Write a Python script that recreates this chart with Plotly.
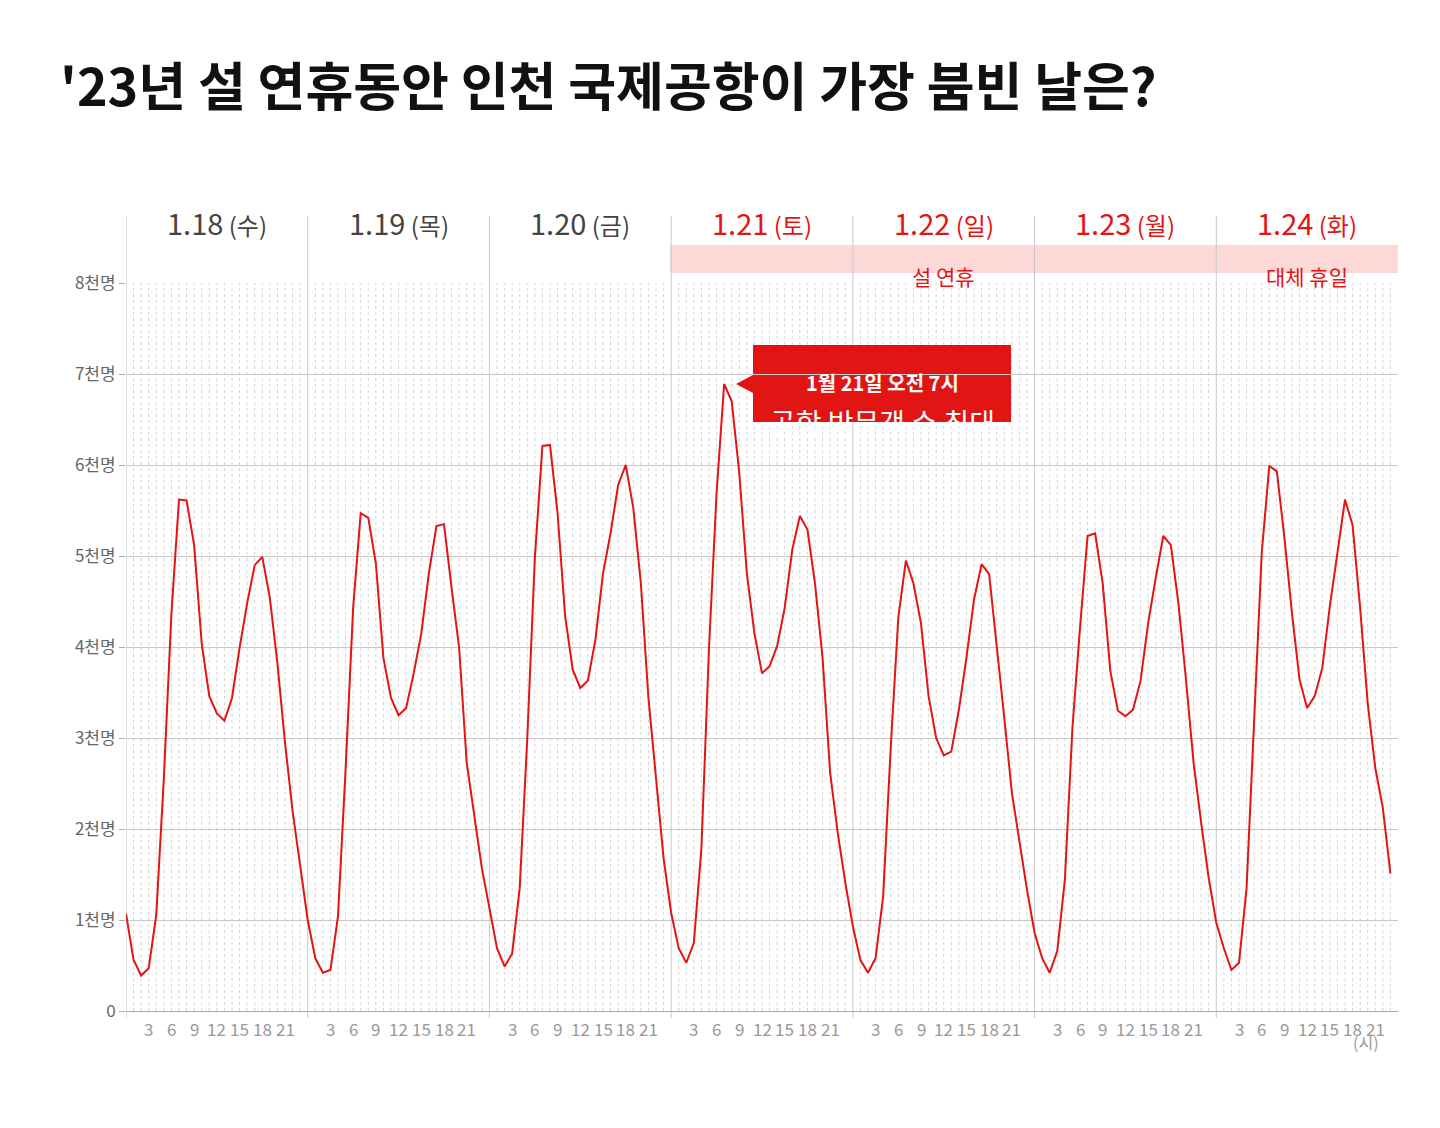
import plotly.graph_objects as go

days = ["1.18", "1.19", "1.20", "1.21", "1.22", "1.23", "1.24"]
weekdays = ["(수)", "(목)", "(금)", "(토)", "(일)", "(월)", "(화)"]
holiday = [False, False, False, True, True, True, True]
hour_ticks = [3, 6, 9, 12, 15, 18, 21]
y_ticks = [0, 1, 2, 3, 4, 5, 6, 7, 8]
y_labels = ["0", "1천명", "2천명", "3천명", "4천명", "5천명", "6천명", "7천명", "8천명"]

# visitors per hour (thousand)
d18 = [1.07,0.56,0.39,0.47,1.06,2.56,4.37,5.62,5.61,5.12,4.04,3.46,3.27,3.19,3.44,3.99,4.48,4.90,4.99,4.54,3.82,2.95,2.20,1.57]
d19 = [1.00,0.58,0.42,0.45,1.04,2.65,4.43,5.47,5.42,4.92,3.88,3.44,3.25,3.33,3.71,4.15,4.81,5.33,5.35,4.65,3.99,2.73,2.12,1.57]
d20 = [1.13,0.69,0.49,0.63,1.35,3.00,4.98,6.21,6.22,5.47,4.34,3.75,3.55,3.63,4.08,4.81,5.25,5.78,6.00,5.53,4.70,3.44,2.56,1.68]
d21 = [1.08,0.69,0.53,0.75,1.79,3.99,5.69,6.89,6.70,5.91,4.81,4.15,3.71,3.79,4.01,4.43,5.07,5.44,5.29,4.70,3.88,2.62,1.96,1.41]
d22 = [0.93,0.56,0.42,0.58,1.26,2.89,4.32,4.95,4.70,4.26,3.46,3.00,2.81,2.85,3.31,3.88,4.52,4.91,4.80,4.04,3.22,2.40,1.85,1.33]
d23 = [0.86,0.58,0.42,0.66,1.44,3.11,4.21,5.22,5.25,4.70,3.74,3.30,3.24,3.31,3.63,4.26,4.76,5.22,5.12,4.48,3.64,2.73,2.07,1.46]
d24 = [0.97,0.69,0.45,0.53,1.35,3.22,5.03,5.99,5.93,5.20,4.37,3.64,3.33,3.46,3.77,4.45,5.03,5.62,5.34,4.43,3.38,2.67,2.23,1.51]
series = [d18, d19, d20, d21, d22, d23, d24]

values = [v for d in series for v in d]
hours = list(range(len(values)))

RED = "#e31414"
GRAY = "#444444"
FONT = "Noto Sans CJK KR"
L, R, T, B = 118, 1390, 275, 1003
def px(x): return (x - L) / (R - L)
def py(y): return (B - y) / (B - T)

fig = go.Figure()
fig.add_trace(go.Scatter(x=hours, y=values, mode="lines",
                         line=dict(color=RED, width=2), hoverinfo="skip"))

shapes = []
for h in range(168):
    if h % 24 == 0:
        continue
    shapes.append(dict(type="line", xref="x", yref="paper", x0=h, x1=h, y0=0, y1=1,
                       line=dict(color="#d4d4d4", width=1, dash="dot"), layer="below"))
for d in range(7):
    shapes.append(dict(type="line", xref="x", yref="paper", x0=d*24, x1=d*24,
                       y0=py(1010), y1=py(208), line=dict(color="#c8c8c8", width=1), layer="below"))
shapes.append(dict(type="rect", xref="x", yref="paper", x0=72, x1=168, y0=py(265), y1=py(237),
                   fillcolor="#fcd9d6", line=dict(width=0), layer="below"))
for d in range(3, 7):
    shapes.append(dict(type="line", xref="x", yref="paper", x0=d*24, x1=d*24,
                       y0=py(265), y1=py(237), line=dict(color="#c8c8c8", width=1)))
# callout box with pointer
shapes.append(dict(type="path", xref="paper", yref="paper",
                   path=f"M {px(745)},{py(337)} L {px(1003)},{py(337)} L {px(1003)},{py(414)} "
                        f"L {px(745)},{py(414)} L {px(745)},{py(385)} L {px(728)},{py(376)} "
                        f"L {px(745)},{py(367)} Z",
                   fillcolor=RED, line=dict(width=0), layer="below"))

ann = []
ann.append(dict(text="'23년 설 연휴동안 인천 국제공항이 가장 붐빈 날은?", xref="paper", yref="paper",
                x=px(50), y=py(75), xanchor="left", yanchor="middle", showarrow=False,
                font=dict(size=52, color="#111111", family=FONT, weight=600)))
for i, (d, w) in enumerate(zip(days, weekdays)):
    c = RED if holiday[i] else GRAY
    ann.append(dict(text=f"{d}<span style='font-size:24px'> {w}</span>", xref="x", yref="paper",
                    x=i*24+12, y=py(214), xanchor="center", yanchor="middle", showarrow=False,
                    font=dict(size=29, color=c, family=FONT)))
    for h in hour_ticks:
        ann.append(dict(text=str(h), xref="x", yref="paper", x=i*24+h, y=py(1021),
                        xanchor="center", yanchor="middle", showarrow=False,
                        font=dict(size=17, color="#999999", family=FONT)))
ann.append(dict(text="설 연휴", xref="x", yref="paper", x=108, y=py(251), showarrow=False,
                font=dict(size=21, color=RED, family=FONT)))
ann.append(dict(text="대체 휴일", xref="x", yref="paper", x=156, y=py(251), showarrow=False,
                font=dict(size=21, color=RED, family=FONT)))
ann.append(dict(text="(시)", xref="paper", yref="paper", x=px(1373), y=py(1048), showarrow=False,
                font=dict(size=16, color="#999999", family=FONT)))
ann.append(dict(text="<b>1월 21일 오전 7시</b>", xref="paper", yref="paper", x=px(874), y=py(358),
                showarrow=False, font=dict(size=20, color="white", family=FONT)))
ann.append(dict(text="공항 방문객 수 최대", xref="paper", yref="paper", x=px(874), y=py(392),
                showarrow=False, font=dict(size=28, color="white", family=FONT)))

fig.update_layout(
    width=1440, height=1128, plot_bgcolor="white", paper_bgcolor="white",
    margin=dict(l=L, r=1440-R, t=T, b=1128-B, autoexpand=False), showlegend=False,
    shapes=shapes, annotations=ann,
    xaxis=dict(range=[0, 168], showgrid=False, zeroline=False, showticklabels=False,
               showline=True, linecolor="#aaaaaa", linewidth=1, fixedrange=True),
    yaxis=dict(range=[0, 8], tickvals=y_ticks, ticktext=y_labels, showgrid=True,
               gridcolor="#c8c8c8", gridwidth=1, zeroline=False, ticks="outside",
               ticklen=6, tickcolor="#aaaaaa",
               tickfont=dict(size=17, color="#666666", family=FONT)),
)
fig.write_html("out.html")
